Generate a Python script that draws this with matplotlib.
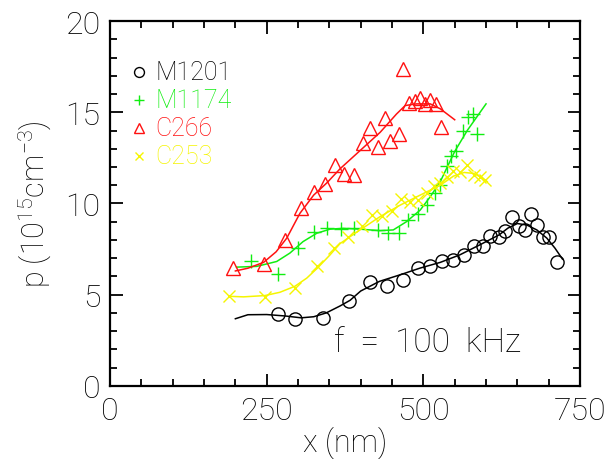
import matplotlib
matplotlib.use("Agg")
import matplotlib.pyplot as plt
from matplotlib.ticker import MultipleLocator

plt.rcParams['font.family'] = ['Roboto', 'DejaVu Sans']
plt.rcParams['font.weight'] = 'light'
plt.rcParams['axes.labelweight'] = 'light'
plt.rcParams['mathtext.fontset'] = 'custom'
plt.rcParams['mathtext.rm'] = 'Roboto:light'

# measured points
m1201_x = [268, 295, 340, 382, 415, 442, 468, 491, 511, 529, 547, 565, 580, 595,
           607, 620, 631, 642, 652, 662, 671, 681, 691, 701, 714]
m1201_y = [3.95, 3.68, 3.73, 4.64, 5.67, 5.49, 5.82, 6.46, 6.58, 6.82, 6.91, 7.18, 7.68, 7.68,
           8.22, 8.15, 8.51, 9.24, 8.77, 8.55, 9.42, 8.82, 8.18, 8.15, 6.77]

m1174_x = [225, 268, 300, 325, 347, 368, 389, 428, 443, 461, 476, 492, 506, 518, 527,
           537, 544, 552, 563, 571, 579, 586]
m1174_y = [6.82, 6.15, 7.58, 8.42, 8.67, 8.6, 8.64, 8.55, 8.4, 8.4, 9.12, 9.4, 9.94, 10.6, 11.0,
           12.04, 12.6, 12.85, 13.97, 14.72, 14.91, 13.8]

c266_x = [197, 245, 279, 305, 325, 343, 359, 373, 390, 404, 415, 427, 439, 447, 461,
          468, 477, 486, 494, 502, 511, 520, 528]
c266_y = [6.46, 6.68, 8.0, 9.73, 10.64, 11.06, 12.1, 11.64, 11.55, 13.31, 14.15, 13.09, 14.68, 13.42, 13.8,
          17.35, 15.49, 15.6, 15.78, 15.44, 15.66, 15.46, 14.22]

c253_x = [190, 247, 295, 331, 358, 380, 402, 418, 434, 450, 465, 479, 492, 505, 517,
          527, 538, 548, 558, 569, 580, 590, 599]
c253_y = [4.95, 4.88, 5.37, 6.55, 7.58, 8.15, 8.78, 9.37, 9.3, 9.57, 10.27, 10.09, 10.17, 10.55, 10.97,
          11.12, 11.45, 11.8, 11.75, 12.1, 11.55, 11.45, 11.28]

# smooth fit curves
m1201_fx = [200, 220, 250, 280, 305, 325, 345, 367, 383, 400, 430, 463, 495, 527, 558, 590,
            621, 635, 650, 665, 681, 697, 710, 722]
m1201_fy = [3.68, 3.90, 3.91, 3.83, 3.73, 3.79, 4.0, 4.38, 4.69, 5.2, 5.73, 6.09, 6.46, 6.77, 7.18, 7.73,
            8.28, 8.65, 8.9, 8.82, 8.55, 8.1, 7.55, 6.95]

m1174_fx = [202, 234, 266, 287, 308, 330, 351, 372, 399, 431, 452, 473, 495, 511, 527, 550, 570, 600]
m1174_fy = [6.51, 6.55, 6.82, 7.28, 7.91, 8.37, 8.59, 8.64, 8.59, 8.51, 8.55, 9.0, 9.64, 10.37, 11.2,
            12.85, 14.0, 15.46]

c266_fx = [200, 220, 245, 265, 282, 303, 325, 346, 367, 399, 431, 457, 471, 489, 511, 527, 550]
c266_fy = [6.3, 6.45, 6.77, 7.35, 8.1, 9.46, 10.46, 11.13, 11.9, 12.9, 13.9, 14.9, 15.37, 15.46, 15.46,
           15.19, 14.59]

c253_fx = [190, 213, 247, 271, 295, 314, 331, 351, 367, 383, 399, 431, 463, 495, 527, 548, 565, 580, 591, 602]
c253_fy = [4.91, 4.88, 4.95, 5.13, 5.46, 5.91, 6.46, 7.18, 7.8, 8.18, 8.55, 9.28, 9.91, 10.46, 11.0,
           11.5, 11.7, 11.65, 11.46, 11.2]

labels = ['M1201', 'M1174', 'C266', 'C253']
colors = ['black', '#11ee11', '#ff1111', '#f5f500']

fig = plt.figure(figsize=(6.08, 4.6), dpi=100)
ax = fig.add_axes([0.181, 0.159, 0.773, 0.793])

series = [(m1201_x, m1201_y, m1201_fx, m1201_fy, 'o'),
          (m1174_x, m1174_y, m1174_fx, m1174_fy, '+'),
          (c266_x, c266_y, c266_fx, c266_fy, '^'),
          (c253_x, c253_y, c253_fx, c253_fy, 'x')]
msize = {'o': 9.5, '+': 10, '^': 9.5, 'x': 8}

for (x, y, fx, fy, m), col in zip(series, colors):
    ax.plot(fx, fy, '-', color=col, linewidth=1.1)
    ax.plot(x, y, linestyle='none', marker=m, markersize=msize[m], color=col,
            markerfacecolor='none', markeredgewidth=1.0)

# legend drawn as text rows
leg_y = [17.2, 15.65, 14.15, 12.6]
for lab, col, (_, _, _, _, m), ly in zip(labels, colors, series, leg_y):
    ax.plot([46], [ly], linestyle='none', marker=m, markersize=msize[m] * 0.75, color=col,
            markerfacecolor='none', markeredgewidth=1.0)
    ax.text(72, ly, lab, color=col, fontsize=18, va='center', ha='left')

ax.text(357, 2.4, 'f  =  100  kHz', fontsize=24, va='center', ha='left')

ax.set_xlim(0, 750)
ax.set_ylim(0, 20)
ax.xaxis.set_major_locator(MultipleLocator(250))
ax.xaxis.set_minor_locator(MultipleLocator(50))
ax.yaxis.set_major_locator(MultipleLocator(5))
ax.yaxis.set_minor_locator(MultipleLocator(1))
ax.tick_params(which='both', direction='in', top=True, right=True, width=1.3)
ax.tick_params(which='major', length=9, labelsize=23, pad=7)
ax.tick_params(which='minor', length=5)
for s in ax.spines.values():
    s.set_linewidth(1.6)

ax.set_xlabel('x (nm)', fontsize=22, labelpad=1)
ax.set_ylabel('p (10$^{15}$cm$^{-3}$)', fontsize=22, labelpad=8)

plt.savefig('out.png', dpi=100)
